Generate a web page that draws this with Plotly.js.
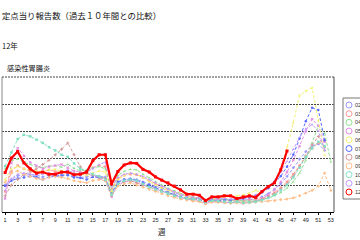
<!DOCTYPE html>
<html>
<head>
<meta charset="utf-8">
<script src="https://cdn.plot.ly/plotly-3.0.1.min.js"></script>
<style>html,body{margin:0;padding:0;background:#fff;}#chart{width:360px;height:240px;}</style>
</head>
<body>
<div id="chart"></div>
<script>
var weeks = [1,2,3,4,5,6,7,8,9,10,11,12,13,14,15,16,17,18,19,20,21,22,23,24,25,26,27,28,29,30,31,32,33,34,35,36,37,38,39,40,41,42,43,44,45,46,47,48,49,50,51,52,53];
var tickWeeks = [1,3,5,7,9,11,13,15,17,19,21,23,25,27,29,31,33,35,37,39,41,43,45,47,49,51,53];
var tickLabels = ["1","3","5","7","9","11","13","15","17","19","21","23","25","27","29","31","33","35","37","39","41","43","45","47","49","51","53"];
var gridValues = [5, 10, 15, 20, 25];
var seriesNames = ["02","03","04","05","06","07","08","09","10","11","12"];

var y02 = [5.0,6.0,6.7,6.8,6.9,6.8,6.5,6.9,6.7,6.9,7.0,6.6,6.4,6.5,6.8,6.6,6.5,3.6,5.5,6.0,6.2,6.0,5.6,5.2,4.8,4.4,4.0,3.6,3.2,2.8,2.6,2.5,2.2,2.4,2.4,2.3,2.2,2.3,2.2,2.3,2.4,2.8,3.4,4.2,5.2,6.6,8.2,9.8,11.2,12.3,12.6,11.4];
var y03 = [3.8,7.5,8.6,8.0,7.6,7.2,7.4,7.8,7.5,7.3,7.6,7.0,7.2,7.4,8.2,8.6,8.4,4.2,6.2,6.8,7.0,6.9,6.4,5.8,5.2,4.7,4.2,3.8,3.3,2.9,2.7,2.5,2.0,2.4,2.3,2.2,2.1,2.2,2.1,2.3,2.2,2.5,3.0,3.6,4.5,5.6,7.0,8.6,10.2,11.8,12.8,13.2];
var y04 = [8.0,9.5,9.8,9.2,8.8,8.4,8.2,8.5,8.6,8.3,8.8,8.1,7.6,7.8,8.2,8.4,8.0,4.0,6.8,7.5,7.9,7.8,7.0,6.3,5.6,5.0,4.4,3.9,3.4,3.0,2.8,2.6,2.1,2.5,2.4,2.3,2.2,2.1,2.0,2.0,2.1,2.3,2.6,3.0,3.6,4.4,5.6,7.2,9.6,12.8,16.0,14.6,9.3];
var y05 = [2.5,9.0,11.8,10.4,9.2,8.6,8.0,8.4,8.6,8.8,8.2,7.6,7.4,7.0,6.8,6.2,5.8,2.8,5.0,5.6,5.8,5.4,5.0,4.6,4.2,3.8,3.4,3.0,2.7,2.4,2.2,2.0,1.6,1.9,1.9,1.8,1.7,1.8,1.6,1.8,1.9,2.4,3.2,4.2,5.6,7.4,9.6,12.2,15.0,17.2,16.0,13.0];
var y06 = [6.0,8.0,8.4,8.0,7.8,7.6,7.4,7.8,7.9,7.6,7.4,7.2,7.0,6.8,7.2,7.6,7.4,3.8,6.0,6.8,7.2,7.0,6.4,5.6,5.0,4.4,4.0,3.6,3.2,2.9,2.6,2.5,2.2,2.5,2.6,2.7,2.8,3.0,3.2,3.5,4.0,3.6,4.8,5.6,8.0,12.0,16.5,21.6,22.4,23.0,17.0,10.5];
var y07 = [4.8,5.8,6.2,6.4,6.6,6.5,6.0,6.5,6.6,6.7,6.8,6.4,6.3,6.0,6.5,6.4,6.2,3.4,5.6,6.0,6.1,5.8,5.4,5.0,4.5,4.0,3.6,3.2,2.8,2.5,2.4,2.3,1.9,2.2,2.1,2.2,2.2,2.4,2.5,2.7,3.0,3.6,4.4,5.4,6.6,8.4,10.6,13.6,16.8,19.3,18.9,13.3];
var y08 = [3.0,5.0,6.0,7.0,7.4,8.0,8.8,9.6,10.6,11.6,12.8,10.6,8.4,7.2,6.8,6.6,6.2,3.0,5.2,5.6,5.8,5.4,5.0,4.6,4.2,3.8,3.4,3.0,2.7,2.5,2.3,2.2,1.8,2.0,2.0,1.9,1.8,1.9,1.8,1.9,2.0,2.3,2.8,3.4,4.2,5.2,6.6,8.4,10.4,12.4,14.0,12.0];
var y09 = [5.5,7.2,7.6,7.0,6.6,6.2,6.0,6.4,6.6,6.4,6.2,5.8,5.6,5.4,5.8,6.0,5.8,3.2,4.8,5.2,5.4,5.0,4.6,4.2,3.8,3.4,3.0,2.7,2.4,2.2,2.0,1.9,1.5,1.8,1.8,1.7,1.6,1.7,1.6,1.7,1.8,1.9,2.0,2.1,2.3,2.4,2.6,3.0,3.5,4.0,4.8,7.2,4.0];
var y10 = [8.5,11.0,13.5,14.3,14.0,13.4,12.8,12.0,11.4,10.6,10.2,9.0,8.0,7.6,7.0,6.6,6.0,3.2,5.2,5.8,6.0,5.8,5.2,4.6,4.2,3.8,3.4,3.0,2.7,2.5,2.4,2.2,1.8,2.1,2.0,1.9,1.8,1.9,1.7,1.8,1.9,2.2,2.6,3.2,4.0,5.0,6.4,8.2,10.2,11.8,13.0,12.2];
var y11 = [4.0,6.2,7.0,7.2,7.0,6.8,7.0,7.2,7.0,7.4,7.8,7.2,6.8,7.4,8.0,8.8,9.2,4.6,6.4,7.0,7.2,7.0,6.6,6.0,5.4,4.8,4.2,3.7,3.2,2.9,2.7,2.6,2.2,2.5,2.4,2.5,2.4,2.5,2.6,2.8,3.2,3.8,4.6,5.8,7.4,9.4,11.6,13.8,15.4,16.2,15.0,11.5];
var y12 = [7.3,10.0,11.2,9.1,8.0,7.2,7.4,7.0,7.0,7.4,7.4,6.9,7.0,7.4,9.5,10.6,10.6,5.2,7.5,8.7,9.1,9.0,7.9,7.4,6.5,5.9,5.4,4.8,4.1,3.3,3.3,3.1,2.1,2.8,2.8,3.0,3.0,2.5,2.8,3.0,2.7,3.8,4.7,5.4,7.8,11.3];

var seriesValues = [y02,y03,y04,y05,y06,y07,y08,y09,y10,y11,y12];
var colors = ["#9a9aff","#ff9a9a","#8ee08e","#e48ce4","#f4f070","#5a6cff","#d49a9a","#ffbe88","#80e0c4","#c29cff","#ff0000"];
var symbols = ["diamond","square","triangle-up","x","star","circle","cross","diamond","square","triangle-up","square"];

var W = 360, H = 240, ML = 2, MR = 26, MT = 77, MB = 28;
var PW = W - ML - MR, PH = H - MT - MB;
var Y_MAX = 25;
function px(x){ return (x - ML) / PW; }
function py(y){ return (H - MB - y) / PH; }

var traces = [];
for (var i = 0; i < seriesValues.length; i++) {
  var cur = (i === seriesValues.length - 1);
  traces.push({
    x: weeks.slice(0, seriesValues[i].length),
    y: seriesValues[i],
    name: seriesNames[i],
    type: "scatter",
    mode: "lines+markers",
    showlegend: false,
    line: {color: colors[i], width: cur ? 2.2 : 1, dash: cur ? "solid" : "3px,2px"},
    marker: {color: colors[i], size: cur ? 3 : 2.5, symbol: symbols[i]}
  });
}

var annotations = [
  {xref:"paper", yref:"paper", x:px(0), y:py(15), xanchor:"left", yanchor:"middle", showarrow:false,
   text:"定点当り報告数（過去１０年間との比較）", font:{family:"Noto Sans CJK JP", size:8.4, color:"#111"}},
  {xref:"paper", yref:"paper", x:px(0), y:py(45), xanchor:"left", yanchor:"middle", showarrow:false,
   text:"12年", font:{family:"Noto Sans CJK JP", size:7.5, color:"#111"}},
  {xref:"paper", yref:"paper", x:px(5), y:py(68), xanchor:"left", yanchor:"middle", showarrow:false,
   text:"感染性胃腸炎", font:{family:"Noto Sans CJK JP", size:7.2, color:"#111"}},
  {xref:"paper", yref:"paper", x:px(162), y:py(231), xanchor:"center", yanchor:"middle", showarrow:false,
   text:"週", font:{family:"Noto Sans CJK JP", size:7.5, color:"#111"}}
];
var shapes = [
  {type:"rect", xref:"paper", yref:"paper", x0:px(343), x1:px(372), y0:py(199), y1:py(98),
   line:{color:"#777", width:1}, fillcolor:"rgba(0,0,0,0)"},
  {type:"line", xref:"paper", yref:"paper", x0:0, x1:0, y0:0, y1:1, line:{color:"#888", width:1}},
  {type:"line", xref:"paper", yref:"paper", x0:1, x1:1, y0:0, y1:1, line:{color:"#888", width:1.5}},
  // top dashed border (the gridline at the axis maximum is dropped by Plotly at the plot edge)
  {type:"line", xref:"paper", yref:"paper", x0:0, x1:1, y0:1, y1:1, line:{color:"#444", width:1, dash:"2px,1px"}}
];
for (var k = 0; k < seriesNames.length; k++) {
  var cy = 105 + k * 8.7;
  shapes.push({type:"circle", xref:"paper", yref:"paper", xsizemode:"pixel", ysizemode:"pixel",
    xanchor:px(349), yanchor:py(cy), x0:-3, x1:3, y0:-3, y1:3,
    line:{color:colors[k], width:1}, fillcolor:"rgba(0,0,0,0)"});
  annotations.push({xref:"paper", yref:"paper", x:px(353), y:py(cy), xanchor:"left", yanchor:"middle",
    showarrow:false, text:seriesNames[k], font:{family:"Liberation Sans", size:5.5, color:"#333"}});
}

var layout = {
  width: W, height: H,
  margin: {l: ML, r: MR, t: MT, b: MB, pad: 0},
  paper_bgcolor: "#fff", plot_bgcolor: "#fff",
  showlegend: false,
  xaxis: {
    range: [0.5, 53.5], tickmode: "array", tickvals: tickWeeks, ticktext: tickLabels,
    showgrid: false, zeroline: false, showline: true, linecolor: "#000", linewidth: 1,
    ticks: "outside", ticklen: 2, tickcolor: "#000",
    tickfont: {family: "Liberation Sans", size: 5.5, color: "#222"}, fixedrange: true
  },
  yaxis: {
    range: [0, Y_MAX], tickmode: "array", tickvals: gridValues, showticklabels: false, ticks: "",
    showgrid: true, gridcolor: "#444", gridwidth: 1, griddash: "2px,1px",
    zeroline: false, showline: false, fixedrange: true
  },
  annotations: annotations,
  shapes: shapes
};

Plotly.newPlot("chart", traces, layout, {staticPlot: true, displayModeBar: false});
</script>
</body>
</html>
